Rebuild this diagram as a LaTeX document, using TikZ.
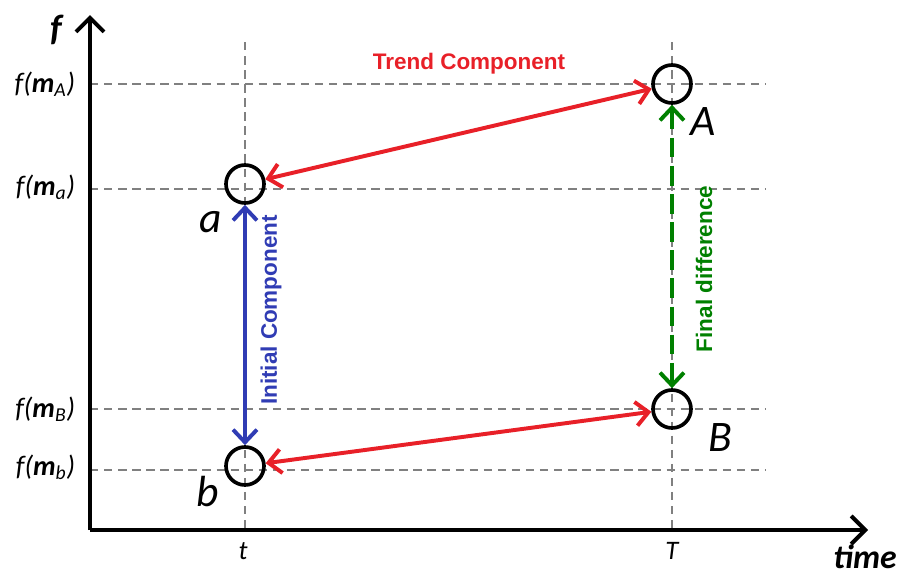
\documentclass[tikz,border=0pt]{standalone}
\usepackage{xcolor}
\usepackage{fontspec}
\setmainfont{Carlito}
\newfontfamily\arialfont{Liberation Sans}
\usepackage{tikz}
\usetikzlibrary{arrows.meta,positioning,calc}

\definecolor{trendred}{RGB}{232,32,40}
\definecolor{initblue}{RGB}{48,60,180}
\definecolor{finalgreen}{RGB}{0,128,0}
\definecolor{gridgray}{RGB}{128,128,128}

% f(m_X) label
\newcommand{\fval}[1]{\itshape f(\textbf{m}\textsubscript{#1})}

\begin{document}
\begin{tikzpicture}[
    x=0.025cm, y=-0.025cm,
    axis/.style={
        draw,
        line width=2.8pt,
        -{Straight Barb[length=10pt,width=20pt]}
    },
    guide/.style={
        draw=gridgray,
        line width=1.3pt,
        dash pattern=on 6pt off 4pt
    },
    state/.style={
        circle,
        draw,
        line width=2.6pt,
        minimum size=0.95cm,
        inner sep=0pt
    },
    statename/.style={
        font=\fontsize{31}{33}\selectfont\itshape
    },
    flabel/.style={
        anchor=east,
        font=\fontsize{20}{22}\selectfont
    },
    line/.style={
        draw,
        line width=2.8pt,
        {Straight Barb[length=9pt,width=17pt]}-{Straight Barb[length=9pt,width=17pt]}
    },
    tag/.style={
        font=\arialfont\bfseries\fontsize{16}{18}\selectfont
    }
]
\useasboundingbox (0,0) rectangle (904,579);

% Axes
\coordinate (origin) at (90,530);
\coordinate (ytip) at (90,15);
\coordinate (xtip) at (868,530);

% Guide lines
\foreach \yy in {84,189,409,470}
    \draw [guide] (90,\yy) -- (765,\yy);
\foreach \xx in {245,672}
    \draw [guide] (\xx,42) -- (\xx,530);

\draw [axis] (origin) -- (ytip);
\draw [axis] (origin) -- (xtip);

% Axis labels
\node [font=\fontsize{26}{28}\selectfont\bfseries\itshape] (flab) at (56,30) {f};
\node [anchor=base east, inner sep=0pt, font=\fontsize{24}{26}\selectfont\bfseries\itshape] (timelab) at (897,568) {time};
\node [font=\fontsize{19}{21}\selectfont\itshape] (tlab) at (243,551) {t};
\node [font=\fontsize{19}{21}\selectfont\itshape] (Tlab) at (672,551) {T};

\node [flabel] (fA) at (80,84) {\fval{A}};
\node [flabel] (fa) at (80,187) {\fval{a}};
\node [flabel] (fB) at (80,409) {\fval{B}};
\node [flabel] (fb) at (80,467) {\fval{b}};

% Nodes
\node [state] (a) at (245,184) {};
\node [state] (b) at (245,466) {};
\node [state] (A) at (672,84) {};
\node [state] (B) at (672,409) {};

\node [statename] (aname) at (211,222) {a};
\node [statename] (bname) at (208,492) {b};
\node [statename] (Aname) at (703,122) {A};
\node [statename] (Bname) at (720,438) {B};

% Paths
\path [line, trendred] (a) -- (A);
\path [line, trendred] (b) -- (B);
\path [line, initblue] (a) -- (b);
\path [line, finalgreen, dash pattern=on 14pt off 6pt] (A) -- (B);

\node [tag, text=trendred] (trend) at (469,64) {Trend Component};
\node [tag, text=initblue, rotate=90] (init) at (271,310) {Initial Component};
\node [tag, text=finalgreen, rotate=90] (final) at (704,269) {Final difference};

\end{tikzpicture}
\end{document}
